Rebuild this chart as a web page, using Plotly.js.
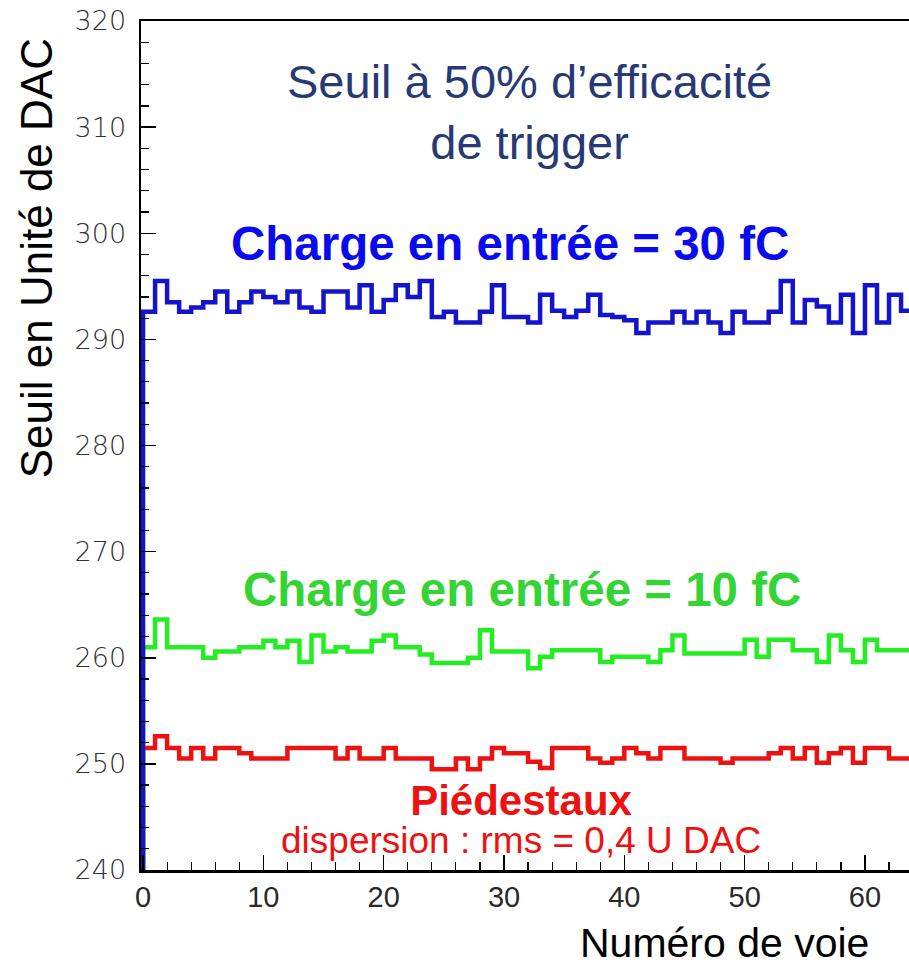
<!DOCTYPE html>
<html>
<head>
<meta charset="utf-8">
<script src="https://cdn.plot.ly/plotly-3.0.1.min.js"></script>
<style>html,body{margin:0;padding:0;background:#fff;}#chart{width:909px;height:968px;}</style>
</head>
<body>
<div id="chart"></div>
<script>
// Channel numbers (Numéro de voie)
const channels = [0,1,2,3,4,5,6,7,8,9,10,11,12,13,14,15,16,17,18,19,20,21,22,23,24,25,26,27,28,29,30,31,
                  32,33,34,35,36,37,38,39,40,41,42,43,44,45,46,47,48,49,50,51,52,53,54,55,56,57,58,59,60,61,62,63];

// Threshold at 50% trigger efficiency, input charge 30 fC (DAC units)
const seuil30fC = [292.6,295.5,293.5,292.6,293.0,293.5,294.5,292.6,293.5,294.5,294.0,293.5,294.5,293.0,292.6,294.5,
                   294.5,293.0,295.1,292.6,293.7,295.1,294.0,295.5,292.1,292.6,291.6,291.6,292.6,295.1,292.1,292.1,
                   291.6,294.2,292.7,292.1,292.7,294.2,292.3,292.1,291.8,290.6,291.6,291.6,292.6,291.6,292.6,291.6,
                   290.6,292.6,291.6,291.6,292.6,295.5,291.6,293.7,293.1,291.6,294.2,290.6,295.1,291.6,294.2,292.7];

// Input charge 10 fC
const seuil10fC = [261.0,263.6,261.0,261.0,261.0,260.0,260.6,260.6,261.0,261.0,261.6,261.0,261.6,259.6,262.1,260.6,
                   261.0,260.6,260.6,261.6,262.1,261.0,261.0,260.3,259.5,259.5,259.5,260.0,262.6,260.6,260.6,260.6,
                   259.0,260.1,260.7,260.7,260.7,260.7,259.6,260.1,260.1,260.1,259.6,260.7,262.1,260.4,260.4,260.4,
                   260.4,260.4,261.7,260.1,261.7,261.7,260.7,260.7,259.6,262.1,260.7,259.6,261.7,260.7,260.7,260.7];

// Pedestals
const piedestaux = [251.5,252.6,251.5,250.5,251.5,250.5,251.5,251.5,251.0,250.5,250.5,250.5,251.5,251.5,251.5,251.5,
                    250.5,251.5,250.5,250.5,251.5,250.5,250.5,250.5,249.5,249.5,250.5,249.5,250.5,251.5,251.0,251.0,
                    250.2,249.6,251.5,251.5,251.5,250.5,250.1,250.5,251.5,251.0,250.5,251.5,251.5,250.5,250.5,250.5,
                    250.1,250.5,250.5,250.5,251.0,251.5,250.5,251.5,250.1,251.0,251.5,250.1,251.5,251.5,250.5,250.5];

const yTickVals = [240,250,260,270,280,290,300,310,320];
const xTickVals = [0,10,20,30,40,50,60];
const yMin = 240, yMax = 320;

// Histogram outline: start at the axis floor, step through each bin, end at the last edge
function stepX(ch){ return [ch[0]].concat(ch, [ch.length]); }
function stepY(vals){ return [yMin].concat(vals, [vals[vals.length-1]]); }

function histo(vals, color){
  return {
    x: stepX(channels), y: stepY(vals),
    type: 'scatter', mode: 'lines',
    line: {shape: 'hv', color: color, width: 4.5},
    hoverinfo: 'skip', showlegend: false
  };
}

const data = [
  histo(piedestaux, '#ee1111'),
  histo(seuil10fC, '#22ee22'),
  histo(seuil30fC, '#1414cc')
];

const sans = '"Liberation Sans", Arial, sans-serif';

const layout = {
  width: 909, height: 968,
  margin: {l: 141, r: 0, t: 21, b: 98, pad: 0},
  paper_bgcolor: '#ffffff', plot_bgcolor: '#ffffff',
  showlegend: false,
  xaxis: {
    range: [-0.17, 63.66],
    tickvals: xTickVals, ticktext: xTickVals.map(String),
    ticks: 'inside', ticklen: 15, tickwidth: 1.5, tickcolor: '#000',
    minor: {dtick: 2, tick0: 0, ticks: 'inside', ticklen: 8, tickwidth: 1.2, tickcolor: '#000'},
    showline: true, linecolor: '#000', linewidth: 2.5, mirror: true,
    showgrid: false, zeroline: false,
    tickfont: {family: '"Liberation Sans Narrow", "Liberation Sans", Arial, sans-serif', size: 29, color: '#2a2a2a', weight: 300}
  },
  yaxis: {
    range: [yMin, yMax],
    tickvals: yTickVals, ticktext: yTickVals.map(String),
    ticks: 'inside', ticklen: 15, tickwidth: 1.5, tickcolor: '#000',
    minor: {dtick: 2, tick0: 240, ticks: 'inside', ticklen: 8, tickwidth: 1.2, tickcolor: '#000'},
    showline: true, linecolor: '#000', linewidth: 2.5, mirror: false,
    showgrid: false, zeroline: false,
    tickfont: {family: '"DejaVu Sans", sans-serif', size: 27, color: '#333', weight: 300},
    ticklabelstandoff: 7
  },
  annotations: [
    {text: 'Seuil à 50% d’efficacité<br>de trigger', xref: 'x', yref: 'y', x: 32.1, y: 311.4,
     xanchor: 'center', yanchor: 'middle', showarrow: false, align: 'center',
     font: {family: sans, size: 47, color: '#283a74'}},
    {text: '<b>Charge en entrée = 30 fC</b>', xref: 'x', yref: 'y', x: 30.5, y: 299.0,
     xanchor: 'center', yanchor: 'middle', showarrow: false,
     font: {family: sans, size: 47.5, color: '#0a0aee'}},
    {text: '<b>Charge en entrée = 10 fC</b>', xref: 'x', yref: 'y', x: 31.5, y: 266.4,
     xanchor: 'center', yanchor: 'middle', showarrow: false,
     font: {family: sans, size: 47.5, color: '#33d433'}},
    {text: '<span style="font-size:42px;font-weight:bold">Piédestaux</span><br><span style="font-size:37px">dispersion : rms = 0,4 U DAC</span>',
     xref: 'x', yref: 'y', x: 31.45, y: 244.85,
     xanchor: 'center', yanchor: 'middle', showarrow: false, align: 'center',
     font: {family: sans, size: 29.5, color: '#ee1111'}},
    {text: 'Seuil en Unité de DAC', xref: 'paper', yref: 'paper', x: -0.1360, y: 0.720,
     xanchor: 'center', yanchor: 'middle', showarrow: false, textangle: -90,
     font: {family: sans, size: 44, color: '#000'}},
    {text: 'Numéro de voie', xref: 'paper', yref: 'paper', x: 0.760, y: -0.1150,
     xanchor: 'center', yanchor: 'bottom', showarrow: false,
     font: {family: sans, size: 41, color: '#000'}}
  ]
};

Plotly.newPlot('chart', data, layout, {staticPlot: true, displayModeBar: false});
</script>
</body>
</html>
